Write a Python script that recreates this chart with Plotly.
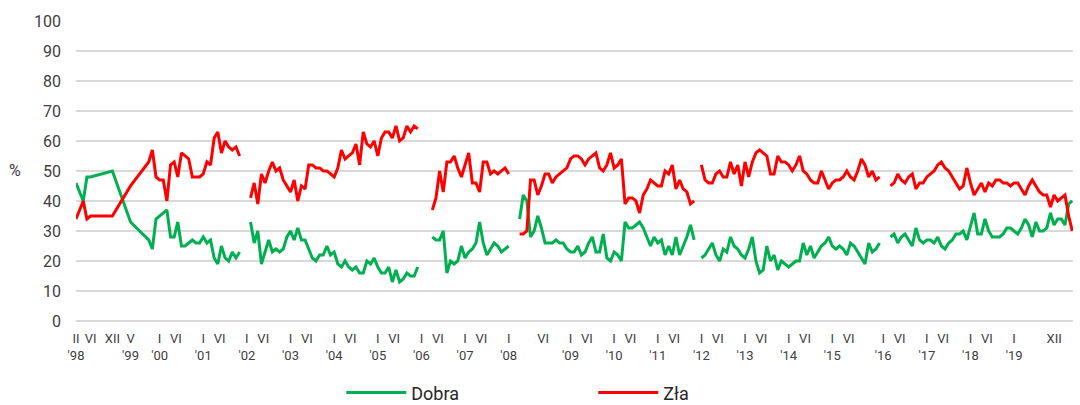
import plotly.graph_objects as go

# ---------------- data ----------------
# sparse surveys 1998-1999: category index (months since II '98)
early_cat = [0, 2, 3, 4, 10, 15, 20, 21]
early_dobra = [46, 40, 48, 48, 50, 33, 27, 24]
early_zla = [34, 40, 34, 35, 35, 45, 53, 57]

# monthly segments: first category index of each continuous block
seg_start = [22, 48, 98, 122, 172, 224]

dobra_segments = [
    [34, 35, 36, 37, 28, 28, 33, 25, 25, 26, 27, 26, 26, 28, 26, 27, 21, 19, 25, 21, 20, 23, 21, 23],
    [33, 26, 30, 19, 23, 27, 23, 24, 23, 24, 28, 30, 27, 31, 27, 27, 24, 21, 20, 22, 22, 25, 22, 23,
     19, 18, 20, 18, 17, 18, 16, 16, 20, 19, 21, 18, 16, 16, 18, 13, 17, 13, 14, 16, 15, 15, 18],
    [28, 27, 27, 30, 16, 20, 19, 20, 25, 21, 23, 24, 26, 33, 26, 22, 24, 26, 25, 23, 24, 25],
    [34, 42, 40, 28, 30, 35, 31, 26, 26, 26, 27, 26, 26, 24, 23, 23, 25, 22, 23, 26, 28, 23, 23, 29,
     21, 20, 23, 22, 20, 33, 31, 31, 32, 33, 31, 28, 25, 28, 26, 27, 22, 25, 22, 28, 22, 25, 28, 32, 27],
    [21, 22, 24, 26, 22, 20, 24, 23, 28, 25, 24, 22, 21, 24, 28, 20, 16, 17, 25, 20, 22, 17, 20, 19,
     18, 19, 20, 20, 26, 22, 25, 21, 23, 25, 26, 28, 25, 24, 25, 24, 22, 26, 25, 23, 21, 19, 26, 23, 24, 26],
    [28, 29, 26, 28, 29, 27, 25, 31, 27, 26, 27, 27, 26, 28, 25, 24, 26, 27, 29, 29, 30, 27, 32, 36,
     29, 29, 34, 30, 28, 28, 28, 29, 31, 31, 30, 29, 31, 34, 32, 28, 33, 30, 30, 31, 36, 32, 34, 34, 32, 39, 40],
]

zla_segments = [
    [48, 47, 47, 40, 52, 53, 48, 56, 55, 54, 48, 48, 48, 49, 53, 52, 61, 63, 56, 60, 58, 57, 58, 55],
    [41, 46, 39, 49, 46, 50, 53, 50, 51, 47, 45, 43, 47, 40, 45, 44, 52, 52, 51, 51, 50, 50, 49, 48,
     51, 57, 54, 55, 56, 59, 52, 63, 59, 58, 60, 55, 61, 63, 63, 61, 65, 60, 61, 65, 63, 65, 64],
    [37, 41, 50, 43, 53, 53, 55, 51, 48, 52, 56, 46, 46, 43, 53, 53, 49, 50, 49, 50, 51, 49],
    [29, 29, 30, 47, 47, 42, 45, 49, 49, 46, 48, 49, 50, 51, 54, 55, 55, 54, 52, 54, 55, 56, 51, 50,
     52, 56, 51, 52, 54, 39, 41, 41, 40, 36, 42, 44, 47, 46, 45, 45, 50, 49, 52, 44, 47, 44, 43, 39, 40],
    [52, 47, 46, 46, 49, 50, 48, 48, 53, 49, 52, 45, 53, 48, 53, 56, 57, 56, 55, 49, 49, 55, 53, 53,
     52, 50, 52, 55, 50, 49, 47, 46, 46, 50, 47, 44, 46, 47, 47, 48, 50, 48, 47, 50, 54, 52, 48, 50, 47, 48],
    [45, 46, 49, 47, 46, 48, 49, 44, 46, 46, 48, 49, 50, 52, 53, 51, 50, 48, 46, 44, 45, 51, 46, 42,
     44, 46, 43, 46, 45, 47, 47, 46, 46, 45, 46, 46, 44, 42, 45, 47, 45, 43, 42, 42, 38, 42, 40, 41, 42, 35, 30],
]

# x-axis labels (category index of each label)
tick_cat = [0, 4, 10, 15, 23, 27.5, 35, 39.5, 47, 51.5, 59, 63.5, 71, 75.5, 83, 87.5, 95, 99.5,
            107, 111.5, 119, 128.5, 136, 140.5, 148, 152.5, 160, 164.5, 172, 176.5, 184, 188.5,
            196, 200.5, 208, 212.5, 222, 226.5, 234, 238.5, 246, 250.5, 258, 269]
tick_text = ["II<br>'98", "VI", "XII", "V<br>'99", "I<br>'00", "VI", "I<br>'01", "VI",
             "I<br>'02", "VI", "I<br>'03", "VI", "I<br>'04", "VI", "I<br>'05", "VI",
             "I<br>'06", "VI", "I<br>'07", "VI", "I<br>'08", "VI", "I<br>'09", "VI",
             "I<br>'10", "VI", "I<br>'11", "VI", "I<br>'12", "VI", "I<br>'13", "VI",
             "I<br>'14", "VI", "I<br>'15", "VI", "I<br>'16", "VI", "I<br>'17", "VI",
             "I<br>'18", "VI", "I<br>'19", "XII"]

y_ticks = list(range(0, 101, 10))


def build(early_vals, segments):
    xs = list(early_cat)
    ys = list(early_vals)
    for k, (start, vals) in enumerate(zip(seg_start, segments)):
        if k > 0:
            xs.append(None)
            ys.append(None)
        xs.extend(range(start, start + len(vals)))
        ys.extend(vals)
    return xs, ys


GREEN = "#00B050"
RED = "#FF0000"

fig = go.Figure()
xd, yd = build(early_dobra, dobra_segments)
xz, yz = build(early_zla, zla_segments)
fig.add_trace(go.Scatter(x=xd, y=yd, mode="lines", name="Dobra",
                         line=dict(color=GREEN, width=3), connectgaps=False))
fig.add_trace(go.Scatter(x=xz, y=yz, mode="lines", name="Zła",
                         line=dict(color=RED, width=3), connectgaps=False))

fig.update_layout(
    width=1080, height=405,
    margin=dict(l=76, r=7, t=20, b=84, autoexpand=False),
    paper_bgcolor="white", plot_bgcolor="white",
    font=dict(family="Roboto, Arial, sans-serif", color="#404040"),
    showlegend=True,
    legend=dict(orientation="h", xref="container", yref="container",
                x=0.316, xanchor="left", y=0.03, yanchor="middle",
                font=dict(size=18, color="#262626"), itemwidth=60, entrywidth=177,
                traceorder="normal", bgcolor="rgba(0,0,0,0)"),
    xaxis=dict(range=[0, 274.2], showgrid=False, zeroline=False, showline=False,
               automargin=False, tickmode="array", tickvals=tick_cat, ticktext=tick_text,
               ticks="", ticklabelstandoff=8,
               tickfont=dict(size=13, color="#404040"), tickangle=0),
    yaxis=dict(range=[0, 100.3], tickmode="array", tickvals=y_ticks, showgrid=True,
               automargin=False,
               gridcolor="#D9D9D9", gridwidth=1.5, zeroline=True, zerolinecolor="#D9D9D9",
               zerolinewidth=1.5, showline=False, ticks="", ticklabelstandoff=14,
               tickfont=dict(size=16, color="#404040")),
    annotations=[dict(text="%", xref="paper", yref="paper", x=-0.061, y=0.5,
                      xanchor="center", yanchor="middle", showarrow=False,
                      font=dict(size=16, color="#404040"))],
)

fig.write_html(
    "out.html",
    config={"displayModeBar": False},
    post_script="document.body.style.margin='0';document.body.style.padding='0';"
                "document.body.style.overflow='hidden';",
)
